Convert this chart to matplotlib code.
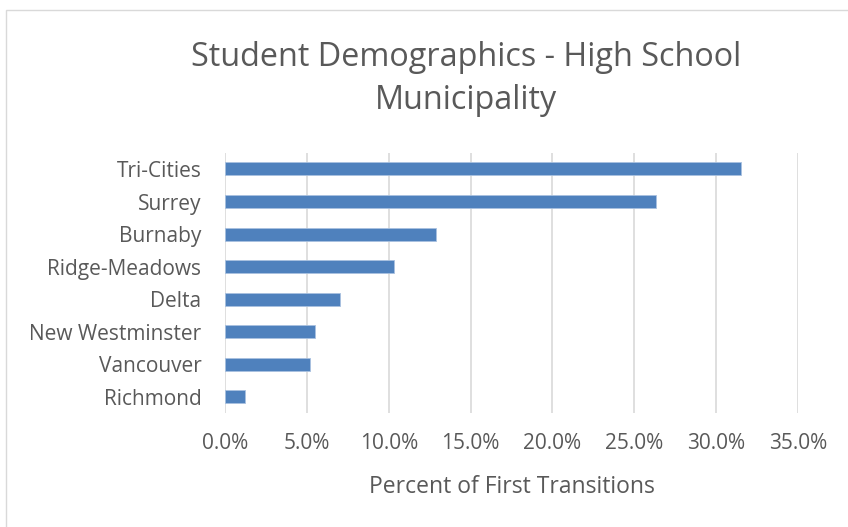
import matplotlib
matplotlib.use("Agg")
import matplotlib.pyplot as plt
from matplotlib.patches import Rectangle
from matplotlib.ticker import FuncFormatter

categories = ["Tri-Cities", "Surrey", "Burnaby", "Ridge-Meadows", "Delta",
              "New Westminster", "Vancouver", "Richmond"]
values = [31.5, 26.3, 12.9, 10.3, 7.0, 5.5, 5.2, 1.2]
xticks = [0, 5, 10, 15, 20, 25, 30, 35]

plt.rcParams['font.family'] = ['Open Sans', 'DejaVu Sans']
txt = '#595959'

fig = plt.figure(figsize=(8.48, 5.27), dpi=100)
ax = fig.add_axes([225/848, 1-413/527, (798-225)/848, (413-152.7)/527])

ypos = list(range(len(categories)))[::-1]
ax.barh(ypos, values, height=0.4, color='#4f81bd', edgecolor='#a9c1e0', linewidth=0.6, zorder=3)
ax.set_yticks(ypos)
ax.set_yticklabels(categories, fontsize=15, color=txt)
ax.set_ylim(-0.5, len(categories)-0.5)
ax.set_xlim(0, 35)
ax.set_xticks(xticks)
ax.xaxis.set_major_formatter(FuncFormatter(lambda v, p: f"{v:.1f}%"))
for lab in ax.get_xticklabels():
    lab.set_fontsize(15); lab.set_color(txt)
ax.tick_params(axis='both', length=0)
ax.tick_params(axis='x', pad=14.5)
ax.tick_params(axis='y', pad=17)
ax.grid(axis='x', color='#d9d9d9', linewidth=1.2, zorder=0)
for s in ax.spines.values():
    s.set_visible(False)
ax.set_xlabel("Percent of First Transitions", fontsize=16.5, color=txt, labelpad=15)

fig.text(466/848, 1-79/527, "Student Demographics - High School\nMunicipality",
         ha='center', va='center', fontsize=23.3, color=txt, linespacing=1.4)

fig.patches.append(Rectangle((6/848, -0.1), 1.0, 1-10/527+0.1, transform=fig.transFigure,
                             fill=False, edgecolor='#d9d9d9', linewidth=1.0))
fig.savefig("out.png", dpi=100)
